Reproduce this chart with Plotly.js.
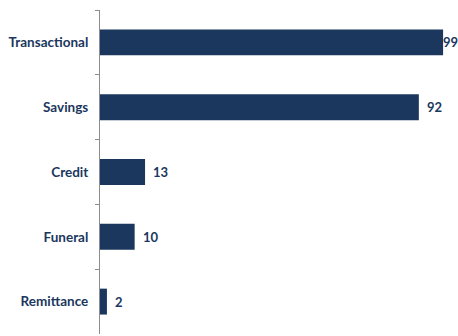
<!DOCTYPE html>
<html>
<head>
<meta charset="utf-8">
<script src="https://cdn.plot.ly/plotly-3.0.1.min.js"></script>
<style>html,body{margin:0;padding:0;background:#fff;}#chart{width:458px;height:336px;}</style>
</head>
<body>
<div id="chart"></div>
<script>
var categories = ["Transactional", "Savings", "Credit", "Funeral", "Remittance"];
var values = [99, 92, 13, 10, 2];
var labelShift = [-1, 7, 7, 7, 7];

var navy = "#1b375e";
var fontFam = "Lato, 'Open Sans', sans-serif";

var trace = {
  type: "bar",
  orientation: "h",
  y: categories,
  x: values,
  width: 0.4,
  marker: {color: navy, line: {width: 0}},
  hoverinfo: "none"
};

var annotations = categories.map(function(c, i) {
  return {
    x: values[i], y: c, xref: "x", yref: "y",
    text: "<b>" + values[i] + "</b>",
    showarrow: false, xanchor: "left", xshift: labelShift[i], borderpad: 0,
    font: {family: fontFam, size: 13, color: navy}
  };
});

var layout = {
  width: 458, height: 336,
  margin: {l: 100, r: 0, t: 10, b: 2, pad: 0},
  paper_bgcolor: "#fff", plot_bgcolor: "#fff",
  showlegend: false,
  xaxis: {range: [0, 103.3], visible: false, fixedrange: true},
  yaxis: {
    type: "category",
    autorange: "reversed",
    showline: true, linecolor: "#8c8c8c", linewidth: 1,
    ticks: "outside", tickson: "boundaries", ticklen: 4, tickcolor: "#8c8c8c",
    showgrid: false, zeroline: false,
    tickfont: {family: fontFam, size: 13.5, color: navy, weight: "bold"},
    ticklabelstandoff: 8
  },
  annotations: annotations
};

Plotly.newPlot("chart", [trace], layout, {staticPlot: true, displayModeBar: false});
</script>
</body>
</html>
